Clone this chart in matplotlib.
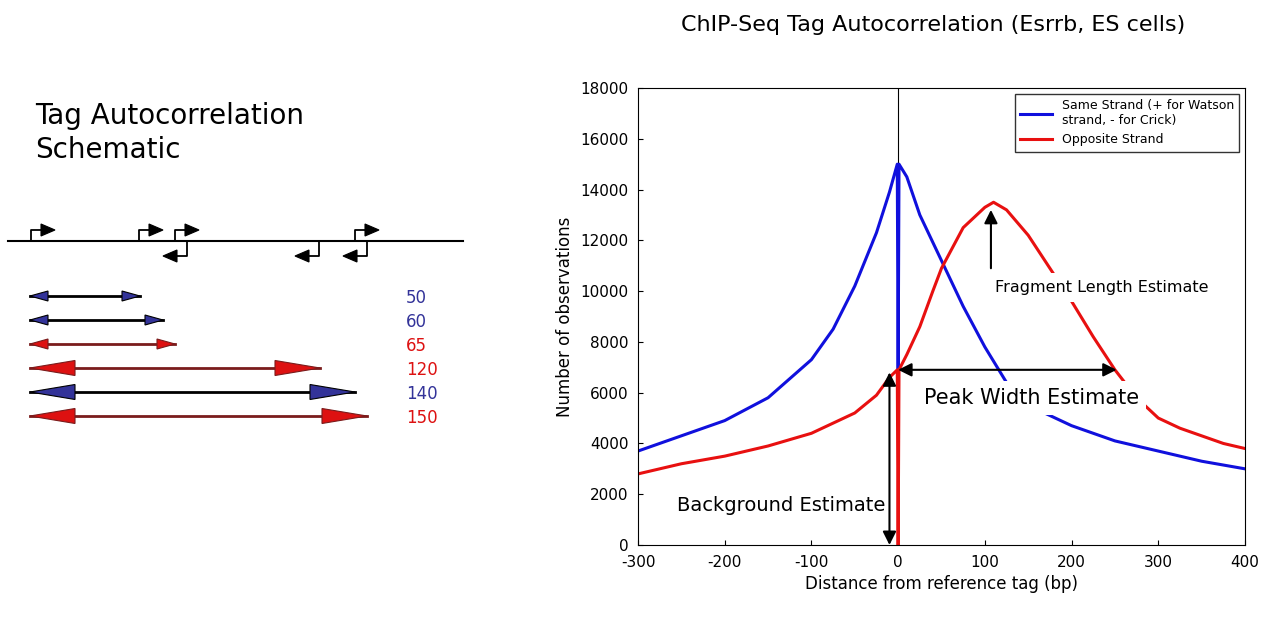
import matplotlib
matplotlib.use("Agg")
import matplotlib.pyplot as plt
from matplotlib.patches import Polygon

plt.rcParams["axes.unicode_minus"] = False

# ---- data ----
same_x = [-300, -250, -200, -150, -100, -75, -50, -25, -10, -1, 0, 1, 10, 25, 50, 75, 100,
          125, 150, 200, 250, 300, 350, 400]
same_y = [3700, 4300, 4900, 5800, 7300, 8500, 10200, 12300, 13900, 15000, 6900, 15000, 14500,
          13000, 11200, 9400, 7800, 6400, 5500, 4700, 4100, 3700, 3300, 3000]
opp_x = [-300, -250, -200, -150, -100, -50, -25, -10, -1, 0, 1, 10, 25, 40, 50, 75, 100, 110,
         125, 150, 175, 200, 225, 250, 275, 300, 325, 350, 375, 400]
opp_y = [2800, 3200, 3500, 3900, 4400, 5200, 5900, 6600, 6900, 0, 6900, 7500, 8600, 10000,
         10900, 12500, 13300, 13500, 13200, 12200, 10900, 9600, 8200, 6900, 5800, 5000, 4600,
         4300, 4000, 3800]

# schematic: fragment lengths and which strand pairing (same/opposite)
frag_lengths = [50, 60, 65, 120, 140, 150]
frag_same = [True, True, False, False, True, False]
fwd_tags = [31, 139, 175, 355]   # pixel positions of + strand tags
rev_tags = [187, 319, 367]       # pixel positions of - strand tags


def tri(ax, tip_x, y, length, width, fc, ec):
    # triangle pointing towards tip_x; length sign gives direction of the base
    ax.add_patch(Polygon([(tip_x, y), (tip_x + length, y - width / 2),
                          (tip_x + length, y + width / 2)], closed=True,
                         facecolor=fc, edgecolor=ec, lw=0.8, zorder=3))


fig = plt.figure(figsize=(12.83, 6.29), dpi=100)

# ---- schematic panel (pixel coordinates) ----
sk = fig.add_axes([0, 0, 1, 1])
sk.set_xlim(0, 1283)
sk.set_ylim(629, 0)
sk.axis("off")
sk.text(35, 133, "Tag Autocorrelation\nSchematic", fontsize=20, va="center", linespacing=1.25)
sk.text(933, 25, "ChIP-Seq Tag Autocorrelation (Esrrb, ES cells)", fontsize=16,
        ha="center", va="center")
sk.plot([8, 463], [241, 241], color="black", lw=1.5)
for x in fwd_tags:
    sk.plot([x, x, x + 10], [241, 230, 230], color="black", lw=1.3)
    tri(sk, x + 24, 230, -14, 12, "black", "black")
for x in rev_tags:
    sk.plot([x, x, x - 10], [241, 256, 256], color="black", lw=1.3)
    tri(sk, x - 24, 256, 14, 12, "black", "black")

ends = [140, 163, 175, 320, 355, 367]
rows = [296, 320, 344, 368, 392, 416]
for L, same, x1, y in zip(frag_lengths, frag_same, ends, rows):
    head = "#333399" if same else "#dd1111"
    shaft = "black" if same else "#7a1c1c"
    hl = 18 if L < 100 else 45
    hw = 10 if L < 100 else 15
    sk.plot([30, x1], [y, y], color=shaft, lw=2, zorder=2)
    tri(sk, 30, y, hl, hw, head, shaft)
    tri(sk, x1, y, -hl, hw, head, shaft)
    sk.text(406, y + 2, str(L), color="#333399" if same else "#dd1111", fontsize=12,
            va="center")

# ---- chart ----
ax = fig.add_axes([638 / 1283, 84 / 629, 607 / 1283, 457 / 629])
ax.plot(same_x, same_y, color="#1010dd", lw=2.2, label="Same Strand (+ for Watson\nstrand, - for Crick)")
ax.plot(opp_x, opp_y, color="#e81010", lw=2.2, label="Opposite Strand")
ax.axvline(0, color="black", lw=0.8, zorder=0)
ax.set_xlim(-300, 400)
ax.set_ylim(0, 18000)
ax.set_xticks(range(-300, 401, 100))
ax.set_yticks(range(0, 18001, 2000))
ax.tick_params(direction="in", labelsize=11, pad=7)
ax.set_xlabel("Distance from reference tag (bp)", fontsize=12)
ax.set_ylabel("Number of observations", fontsize=12)
ax.legend(loc="upper right", fontsize=9, frameon=True, fancybox=False, edgecolor="black",
          handlelength=2.5, borderaxespad=0.5)

arrow = dict(arrowstyle="<|-|>", color="black", lw=1.5, mutation_scale=20,
             shrinkA=0, shrinkB=0)
ax.annotate("", xy=(252, 6900), xytext=(0, 6900), arrowprops=arrow, zorder=6)
ax.annotate("", xy=(-10, 0), xytext=(-10, 6800), arrowprops=arrow, zorder=6)
ax.annotate("", xy=(107, 13200), xytext=(107, 10900), zorder=6,
            arrowprops=dict(arrowstyle="-|>", color="black", lw=1.5, mutation_scale=20,
                            shrinkA=0, shrinkB=0))
box = dict(facecolor="white", edgecolor="none", pad=5)
ax.text(112, 10150, "Fragment Length Estimate", fontsize=11.5, va="center", bbox=box, zorder=4)
ax.text(154, 5800, "Peak Width Estimate", fontsize=15, ha="center", va="center", bbox=box,
        zorder=4)
ax.text(-15, 1550, "Background Estimate", fontsize=14, ha="right", va="center", bbox=box,
        zorder=4)

fig.savefig("out.png", dpi=100)
